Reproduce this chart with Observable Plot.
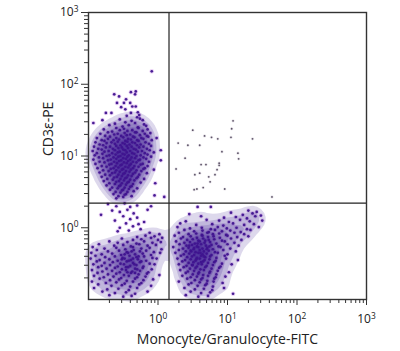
<!DOCTYPE html>
<html><head><meta charset="utf-8">
<script src="https://cdn.jsdelivr.net/npm/d3@7"></script>
<script src="https://cdn.jsdelivr.net/npm/@observablehq/plot@0.6"></script>
<style>
body{margin:0;background:#fff;}
#chart svg{display:block;}
</style></head><body><div id="chart"></div>
<script>
// ---- text ----
const xLabel = "Monocyte/Granulocyte-FITC";
const yLabel = "CD3\u03b5-PE";
// ---- ticks ----
const majorTicks = [1, 10, 100, 1000];
const majorTickLabels = ["10\u2070", "10\u00b9", "10\u00b2", "10\u00b3"];
const minorTicks = [0.2,0.3,0.4,0.5,0.6,0.7,0.8,0.9,2,3,4,5,6,7,8,9,20,30,40,50,60,70,80,90,200,300,400,500,600,700,800,900];
// ---- quadrant gates ----
const gateX = [1.44];
const gateY = [2.2];
// ---- events, as [log10 FITC, log10 PE] ----
const tCells = [
[-0.45,1.56],[-0.30,1.54],
[-0.55,1.51],[-0.38,1.49],[-0.26,1.52],
[-0.62,1.45],[-0.47,1.47],[-0.33,1.46],[-0.20,1.44],
[-0.70,1.43],[-0.51,1.41],[-0.42,1.43],[-0.29,1.40],[-0.17,1.42],
[-0.78,1.37],[-0.60,1.39],[-0.49,1.38],[-0.37,1.36],[-0.28,1.39],[-0.15,1.37],
[-0.66,1.34],[-0.55,1.36],[-0.44,1.35],[-0.33,1.33],[-0.22,1.35],
[-0.83,1.31],[-0.72,1.33],[-0.58,1.31],[-0.48,1.32],[-0.40,1.30],[-0.31,1.33],[-0.19,1.31],[-0.11,1.32],
[-0.76,1.28],[-0.63,1.30],[-0.53,1.28],[-0.45,1.29],[-0.36,1.27],[-0.26,1.29],[-0.16,1.28],
[-0.88,1.25],[-0.69,1.27],[-0.60,1.25],[-0.50,1.26],[-0.43,1.24],[-0.34,1.26],[-0.24,1.25],[-0.14,1.27],
[-0.81,1.22],[-0.72,1.24],[-0.64,1.22],[-0.56,1.23],[-0.47,1.21],[-0.39,1.23],[-0.30,1.22],[-0.21,1.24],[-0.09,1.22],
[-0.90,1.19],[-0.77,1.21],[-0.67,1.19],[-0.58,1.20],[-0.51,1.18],[-0.44,1.20],[-0.37,1.19],[-0.28,1.21],[-0.18,1.19],
[-0.84,1.16],[-0.74,1.18],[-0.62,1.17],[-0.54,1.15],[-0.48,1.17],[-0.41,1.16],[-0.33,1.18],[-0.25,1.16],[-0.13,1.17],
[-0.92,1.13],[-0.79,1.15],[-0.69,1.13],[-0.60,1.14],[-0.52,1.12],[-0.45,1.14],[-0.38,1.13],[-0.30,1.15],[-0.21,1.13],[-0.10,1.14],
[-0.86,1.10],[-0.75,1.12],[-0.65,1.10],[-0.57,1.11],[-0.50,1.09],[-0.43,1.11],[-0.35,1.10],[-0.27,1.12],[-0.16,1.10],
[-0.94,1.07],[-0.81,1.09],[-0.71,1.07],[-0.62,1.08],[-0.55,1.06],[-0.47,1.08],[-0.40,1.07],[-0.32,1.09],[-0.23,1.07],[-0.12,1.08],
[-0.88,1.04],[-0.77,1.06],[-0.66,1.04],[-0.58,1.05],[-0.51,1.03],[-0.45,1.05],[-0.37,1.04],[-0.29,1.06],[-0.19,1.04],[-0.06,1.05],
[-0.91,1.01],[-0.80,1.03],[-0.70,1.01],[-0.61,1.02],[-0.54,1.00],[-0.48,1.02],[-0.42,1.01],[-0.34,1.03],[-0.25,1.01],[-0.15,1.02],
[-0.85,0.98],[-0.74,1.00],[-0.64,0.98],[-0.57,0.99],[-0.50,0.97],[-0.44,0.99],[-0.38,0.98],[-0.31,1.00],[-0.21,0.98],[-0.10,0.99],
[-0.93,0.95],[-0.79,0.97],[-0.68,0.95],[-0.60,0.96],[-0.53,0.94],[-0.46,0.96],[-0.40,0.95],[-0.33,0.97],[-0.26,0.95],[-0.17,0.96],
[-0.84,0.92],[-0.72,0.94],[-0.63,0.92],[-0.56,0.93],[-0.49,0.91],[-0.43,0.93],[-0.36,0.92],[-0.28,0.94],[-0.13,0.92],
[-0.90,0.89],[-0.77,0.91],[-0.67,0.89],[-0.59,0.90],[-0.52,0.88],[-0.45,0.90],[-0.39,0.89],[-0.31,0.91],[-0.22,0.89],
[-0.81,0.86],[-0.70,0.88],[-0.61,0.86],[-0.54,0.87],[-0.47,0.85],[-0.41,0.87],[-0.34,0.86],[-0.25,0.88],[-0.15,0.86],
[-0.87,0.83],[-0.74,0.85],[-0.64,0.83],[-0.57,0.84],[-0.50,0.82],[-0.43,0.84],[-0.36,0.83],[-0.28,0.85],[-0.19,0.83],
[-0.79,0.80],[-0.68,0.82],[-0.60,0.80],[-0.52,0.81],[-0.46,0.79],[-0.39,0.81],[-0.31,0.80],[-0.21,0.82],
[-0.84,0.77],[-0.71,0.79],[-0.62,0.77],[-0.55,0.78],[-0.48,0.76],[-0.41,0.78],[-0.33,0.77],[-0.24,0.79],
[-0.76,0.74],[-0.66,0.76],[-0.57,0.74],[-0.50,0.75],[-0.43,0.73],[-0.36,0.75],[-0.27,0.74],[-0.16,0.76],
[-0.81,0.71],[-0.69,0.73],[-0.59,0.71],[-0.52,0.72],[-0.45,0.70],[-0.38,0.72],[-0.29,0.71],
[-0.73,0.68],[-0.63,0.70],[-0.54,0.68],[-0.47,0.69],[-0.40,0.67],[-0.31,0.69],[-0.20,0.68],
[-0.78,0.65],[-0.65,0.67],[-0.56,0.65],[-0.49,0.66],[-0.42,0.64],[-0.34,0.66],
[-0.70,0.62],[-0.60,0.64],[-0.52,0.62],[-0.44,0.63],[-0.36,0.61],[-0.25,0.63],
[-0.74,0.59],[-0.62,0.61],[-0.54,0.59],[-0.46,0.60],[-0.38,0.58],
[-0.66,0.56],[-0.56,0.58],[-0.48,0.56],[-0.40,0.57],[-0.30,0.55],
[-0.69,0.53],[-0.58,0.55],[-0.50,0.53],[-0.42,0.54],
[-0.61,0.50],[-0.52,0.52],[-0.44,0.50],[-0.35,0.51],
[-0.64,0.47],[-0.54,0.49],[-0.46,0.47],
[-0.57,0.44],[-0.48,0.46],[-0.38,0.44],
[-0.60,0.41],[-0.50,0.43]
];
const tCellsSparse = [
[-0.09,2.18],[-0.63,1.86],[-0.56,1.83],[-0.39,1.89],[-0.32,1.90],[-0.33,1.86],[-0.46,1.79],
[-0.49,1.74],[-0.40,1.74],[-0.59,1.74],[-0.37,1.69],[-0.32,1.69],[-0.53,1.68],[-0.47,1.65],
[-0.29,1.61],[-0.27,1.57],[-0.67,1.60],[-0.75,1.60],[-0.39,1.60],[-0.22,1.50],[-0.80,1.50],[-0.93,1.46],
[0.04,1.08],[0.04,0.94],[-0.06,0.81],[0.09,0.43],[-0.02,1.25],[-0.04,0.62]
];
const bridge = [
[-0.72,0.33],[-0.60,0.30],[-0.48,0.34],[-0.40,0.29],[-0.30,0.31],[-0.66,0.24],[-0.55,0.22],[-0.44,0.25],
[-0.35,0.20],[-0.50,0.16],[-0.40,0.12],[-0.62,0.10],[-0.30,0.14],[-0.46,0.06],[-0.36,0.02],[-0.55,0.00],
[-0.28,0.05],[-0.42,-0.04],[-0.20,0.08],[-0.82,0.18],[-0.15,0.25],[-0.58,-0.05],[-0.25,-0.02],[-0.10,0.30],[-0.05,0.45]
];
const doubleNeg = [
[-0.12,-0.07],[0.02,-0.09],
[-0.30,-0.13],[-0.18,-0.11],[-0.05,-0.12],[0.06,-0.14],
[-0.52,-0.15],[-0.36,-0.17],[-0.24,-0.16],[-0.10,-0.14],[0.00,-0.17],
[-0.70,-0.19],[-0.58,-0.21],[-0.44,-0.20],[-0.31,-0.22],[-0.20,-0.19],[-0.08,-0.21],[0.04,-0.20],
[-0.85,-0.23],[-0.63,-0.25],[-0.50,-0.24],[-0.39,-0.26],[-0.27,-0.23],[-0.15,-0.25],[-0.03,-0.24],
[-0.94,-0.27],[-0.77,-0.29],[-0.60,-0.28],[-0.47,-0.30],[-0.36,-0.27],[-0.24,-0.29],[-0.12,-0.28],[0.05,-0.30],
[-0.88,-0.31],[-0.72,-0.33],[-0.56,-0.32],[-0.45,-0.34],[-0.35,-0.31],[-0.26,-0.33],[-0.17,-0.32],[-0.06,-0.34],
[-0.96,-0.35],[-0.81,-0.37],[-0.66,-0.36],[-0.53,-0.38],[-0.43,-0.35],[-0.33,-0.37],[-0.22,-0.36],[-0.10,-0.38],[0.03,-0.35],
[-0.90,-0.39],[-0.76,-0.41],[-0.62,-0.40],[-0.51,-0.42],[-0.41,-0.39],[-0.31,-0.41],[-0.20,-0.40],[-0.08,-0.42],
[-0.97,-0.43],[-0.84,-0.45],[-0.70,-0.44],[-0.58,-0.46],[-0.48,-0.43],[-0.39,-0.45],[-0.29,-0.44],[-0.17,-0.46],[-0.02,-0.43],
[-0.88,-0.47],[-0.77,-0.49],[-0.65,-0.48],[-0.54,-0.50],[-0.45,-0.47],[-0.36,-0.49],[-0.26,-0.48],[-0.12,-0.50],
[-0.93,-0.51],[-0.81,-0.53],[-0.69,-0.52],[-0.58,-0.54],[-0.49,-0.51],[-0.40,-0.53],[-0.31,-0.52],[-0.21,-0.54],[-0.05,-0.51],
[-0.86,-0.55],[-0.74,-0.57],[-0.62,-0.56],[-0.52,-0.58],[-0.43,-0.55],[-0.33,-0.57],[-0.22,-0.56],[-0.09,-0.58],
[-0.95,-0.59],[-0.80,-0.61],[-0.66,-0.60],[-0.55,-0.62],[-0.46,-0.59],[-0.37,-0.61],[-0.26,-0.60],[-0.14,-0.62],
[-0.87,-0.63],[-0.72,-0.65],[-0.60,-0.64],[-0.49,-0.66],[-0.39,-0.63],[-0.28,-0.65],[-0.16,-0.64],[0.02,-0.66],
[-0.92,-0.67],[-0.78,-0.69],[-0.64,-0.68],[-0.53,-0.70],[-0.42,-0.67],[-0.30,-0.69],[-0.18,-0.68],
[-0.84,-0.71],[-0.69,-0.73],[-0.56,-0.72],[-0.45,-0.74],[-0.33,-0.71],[-0.21,-0.73],[-0.07,-0.72],
[-0.95,-0.75],[-0.75,-0.77],[-0.60,-0.76],[-0.48,-0.78],[-0.36,-0.75],[-0.24,-0.77],
[-0.86,-0.79],[-0.67,-0.81],[-0.52,-0.80],[-0.40,-0.82],[-0.27,-0.79],[-0.10,-0.81],
[-0.92,-0.84],[-0.73,-0.86],[-0.57,-0.85],[-0.42,-0.87],[-0.30,-0.84],
[-0.80,-0.89],[-0.62,-0.91],[-0.46,-0.90],[-0.33,-0.92],[-0.15,-0.89],
[-0.70,-0.94],[-0.50,-0.96],[-0.38,-0.95],
[-0.42,-0.46],[-0.34,-0.51],[-0.28,-0.40],[-0.46,-0.55],[-0.38,-0.33],[-0.52,-0.44],
[-0.30,-0.58],[-0.24,-0.47],[-0.44,-0.62],[-0.36,-0.43],[-0.48,-0.37],[-0.33,-0.63]
];
const myeloid = [
[0.57,0.29],[0.76,0.29],[1.30,0.24],[1.42,0.22],
[0.45,0.19],[1.05,0.21],[1.22,0.18],[1.36,0.20],[1.48,0.17],
[0.62,0.16],[0.95,0.14],[1.12,0.15],[1.28,0.13],[1.40,0.16],
[0.40,0.09],[0.70,0.11],[0.88,0.10],[1.02,0.08],[1.18,0.11],[1.32,0.09],[1.50,0.10],
[0.32,0.06],[0.55,0.04],[0.78,0.05],[0.94,0.03],[1.08,0.06],[1.24,0.04],[1.38,0.05],
[0.28,0.01],[0.46,-0.01],[0.63,0.00],[0.76,-0.02],[0.86,0.01],[0.99,-0.01],[1.13,0.00],[1.28,-0.02],[1.45,0.01],
[0.38,-0.03],[0.52,-0.05],[0.64,-0.04],[0.73,-0.06],[0.82,-0.03],[0.92,-0.05],[1.04,-0.04],[1.19,-0.06],[1.33,-0.03],
[0.30,-0.07],[0.44,-0.09],[0.55,-0.08],[0.63,-0.10],[0.71,-0.07],[0.79,-0.09],[0.88,-0.08],[0.98,-0.10],[1.10,-0.07],[1.24,-0.09],
[0.24,-0.11],[0.36,-0.13],[0.47,-0.12],[0.56,-0.14],[0.64,-0.11],[0.72,-0.13],[0.80,-0.12],[0.89,-0.14],[1.00,-0.11],[1.14,-0.13],[1.30,-0.12],
[0.33,-0.15],[0.42,-0.17],[0.50,-0.16],[0.58,-0.18],[0.65,-0.15],[0.73,-0.17],[0.81,-0.16],[0.92,-0.18],[1.05,-0.15],[1.20,-0.17],
[0.26,-0.19],[0.38,-0.21],[0.46,-0.20],[0.53,-0.22],[0.60,-0.19],[0.67,-0.21],[0.75,-0.20],[0.84,-0.22],[0.96,-0.19],[1.10,-0.21],
[0.31,-0.23],[0.41,-0.25],[0.49,-0.24],[0.56,-0.26],[0.62,-0.23],[0.69,-0.25],[0.77,-0.24],[0.87,-0.26],[1.00,-0.23],[1.16,-0.25],
[0.22,-0.27],[0.36,-0.29],[0.44,-0.28],[0.51,-0.30],[0.58,-0.27],[0.64,-0.29],[0.71,-0.28],[0.79,-0.30],[0.90,-0.27],[1.04,-0.29],
[0.30,-0.31],[0.40,-0.33],[0.47,-0.32],[0.54,-0.34],[0.60,-0.31],[0.66,-0.33],[0.73,-0.32],[0.82,-0.34],[0.94,-0.31],[1.12,-0.33],
[0.25,-0.35],[0.37,-0.37],[0.45,-0.36],[0.52,-0.38],[0.58,-0.35],[0.64,-0.37],[0.70,-0.36],[0.77,-0.38],[0.86,-0.35],[1.00,-0.37],
[0.33,-0.39],[0.42,-0.41],[0.49,-0.40],[0.56,-0.42],[0.62,-0.39],[0.68,-0.41],[0.75,-0.40],[0.84,-0.42],[0.96,-0.39],
[0.28,-0.43],[0.39,-0.45],[0.47,-0.44],[0.54,-0.46],[0.60,-0.43],[0.67,-0.45],[0.74,-0.44],[0.83,-0.46],[0.98,-0.43],[1.15,-0.45],
[0.35,-0.47],[0.44,-0.49],[0.51,-0.48],[0.58,-0.50],[0.65,-0.47],[0.72,-0.49],[0.81,-0.48],[0.92,-0.50],
[0.30,-0.51],[0.41,-0.53],[0.49,-0.52],[0.56,-0.54],[0.63,-0.51],[0.70,-0.53],[0.79,-0.52],[0.90,-0.54],[1.06,-0.51],
[0.37,-0.55],[0.46,-0.57],[0.54,-0.56],[0.61,-0.58],[0.68,-0.55],[0.77,-0.57],[0.88,-0.56],
[0.32,-0.59],[0.43,-0.61],[0.52,-0.60],[0.59,-0.62],[0.66,-0.59],[0.75,-0.61],[0.86,-0.60],[1.02,-0.62],
[0.40,-0.63],[0.50,-0.65],[0.58,-0.64],[0.65,-0.66],[0.74,-0.63],[0.84,-0.65],
[0.35,-0.67],[0.47,-0.69],[0.56,-0.68],[0.64,-0.70],[0.72,-0.67],[0.83,-0.69],[0.97,-0.68],
[0.42,-0.71],[0.53,-0.73],[0.62,-0.72],[0.71,-0.74],[0.81,-0.71],
[0.30,-0.75],[0.48,-0.77],[0.60,-0.76],[0.70,-0.78],[0.80,-0.75],[0.93,-0.77],
[0.44,-0.79],[0.57,-0.81],[0.68,-0.80],[0.79,-0.82],
[0.38,-0.84],[0.53,-0.86],[0.66,-0.85],[0.78,-0.87],[0.95,-0.84],
[0.47,-0.89],[0.62,-0.91],[0.75,-0.90],[1.08,-0.92],
[0.40,-0.94],[0.58,-0.96],[0.72,-0.95],
[0.52,-0.28],[0.61,-0.35],[0.68,-0.18],[0.55,-0.44],[0.48,-0.33],[0.70,-0.30],
[0.62,-0.48],[0.57,-0.22],[0.66,-0.40],[0.50,-0.52],[0.74,-0.26],[0.45,-0.25]
];
const doublePos = [
[1.08,1.49],[1.06,1.38],[1.05,1.26],[1.36,1.24],[0.50,1.36],[0.67,1.28],[0.77,1.26],[0.86,1.24],
[0.29,1.18],[0.43,1.15],[0.60,1.15],[0.92,1.06],[1.15,1.04],[1.16,0.96],[0.39,0.97],[0.62,0.88],
[0.69,0.88],[0.88,0.90],[0.88,0.87],[0.85,0.81],[0.26,0.82],[0.60,0.76],[0.53,0.74],[0.73,0.71],
[0.82,0.74],[0.75,0.64],[0.65,0.56],[0.56,0.54],[0.52,0.53],[0.96,0.54],[1.64,0.43]
];

const px = d => 10 ** d[0];
const py = d => 10 ** d[1];
const dense = [...tCells, ...doubleNeg, ...myeloid];
const allEvents = [...tCells, ...tCellsSparse, ...bridge, ...doubleNeg, ...myeloid];
const labelOf = d => majorTickLabels[majorTicks.indexOf(d)];

const chart = Plot.plot({
  width: 400, height: 351,
  marginLeft: 88, marginRight: 34, marginTop: 12, marginBottom: 52,
  x: {type: "log", domain: [0.1, 1000]},
  y: {type: "log", domain: [0.1, 1000]},
  style: {fontFamily: "'Open Sans', 'DejaVu Sans', sans-serif", background: "#fff", color: "#222"},
  marks: [
    Plot.dot(allEvents, {x: px, y: py, r: 2.3, fill: "#c47ce3", fillOpacity: 0.35, stroke: "none"}),
    Plot.density(dense, {x: px, y: py, bandwidth: 5, thresholds: 10, fill: "#2e0c88", fillOpacity: 0.16, stroke: "none"}),
    Plot.dot(allEvents, {x: px, y: py, r: 1.35, fill: "#3e138e", fillOpacity: 0.95, stroke: "none"}),
    Plot.dot(doublePos, {x: px, y: py, r: 1.6, fill: "#d6d0db", fillOpacity: 0.6, stroke: "none"}),
    Plot.dot(doublePos, {x: px, y: py, r: 0.9, fill: "#5e5468", stroke: "none"}),
    Plot.ruleX(gateX, {stroke: "#222", strokeWidth: 1.2}),
    Plot.ruleY(gateY, {stroke: "#222", strokeWidth: 1.2}),
    Plot.frame({stroke: "#333", strokeWidth: 1.4}),
    Plot.axisX(minorTicks, {tickSize: 4, tickFormat: () => "", label: null, stroke: "#333"}),
    Plot.axisX(majorTicks, {tickSize: 6, tickPadding: 9, tickFormat: labelOf, label: null, fontSize: 12, stroke: "#333"}),
    Plot.axisY(minorTicks, {tickSize: 4, tickFormat: () => "", label: null, stroke: "#333"}),
    Plot.axisY(majorTicks, {tickSize: 7, tickPadding: 3, tickFormat: labelOf, label: null, fontSize: 12, stroke: "#333"}),
    Plot.text([xLabel], {frameAnchor: "bottom", dy: 40, lineAnchor: "middle", fontSize: 14, fill: "#222"}),
    Plot.text([yLabel], {frameAnchor: "left", dx: -40, rotate: -90, fontSize: 14, fill: "#222"})
  ]
});

// render the exponent digits as raised superscripts
const sup = {"\u2070": "0", "\u00b9": "1", "\u00b2": "2", "\u00b3": "3"};
chart.querySelectorAll("text").forEach(t => {
  const s = t.textContent;
  if (s.length === 3 && s.startsWith("10") && sup[s[2]] !== undefined) {
    t.textContent = "10";
    const ts = document.createElementNS("http://www.w3.org/2000/svg", "tspan");
    ts.setAttribute("dy", "-0.5em");
    ts.setAttribute("font-size", "0.7em");
    ts.textContent = sup[s[2]];
    t.appendChild(ts);
  }
});
document.getElementById("chart").appendChild(chart);
</script></body></html>
